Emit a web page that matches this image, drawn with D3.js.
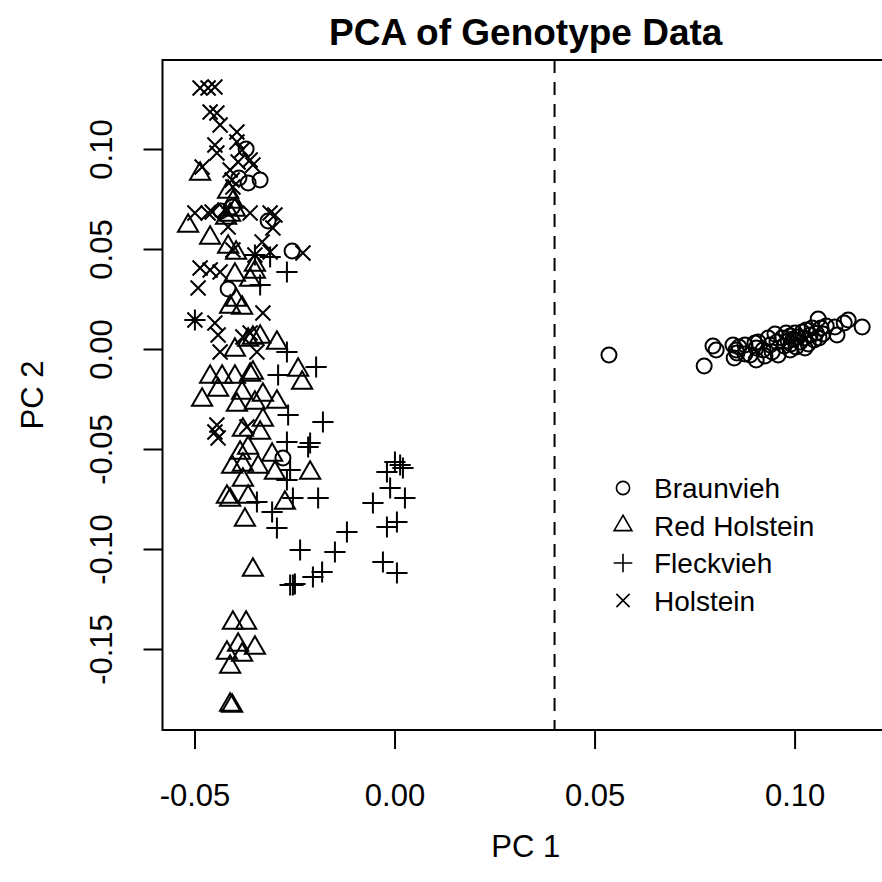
<!DOCTYPE html>
<html lang="en">
<head>
<meta charset="utf-8">
<title>PCA of Genotype Data</title>
<script src="https://d3js.org/d3.v7.min.js"></script>
<style>
  body { margin: 0; background: #fff; }
  text { font-family: "Liberation Sans", Arial, sans-serif; fill: #000; }
</style>
</head>
<body>
<script>
  // ---- data (PC1, PC2) ----
  const braunvieh = [
    [-0.0371, 0.1000], [-0.0389, 0.0855], [-0.0336, 0.0845], [-0.0366, 0.0830],
    [-0.0434, 0.0690], [-0.0405, 0.0710], [-0.0316, 0.0640], [-0.0256, 0.0490],
    [-0.0416, 0.0300], [-0.0279, -0.0545],
    [0.0536, -0.0030], [0.0774, -0.0085], [0.0796, 0.0015], [0.0804, -0.0005],
    [0.0846, 0.0020], [0.0854, -0.0005], [0.0849, -0.0045], [0.0861, 0.0010],
    [0.0856, -0.0020], [0.0876, 0.0020], [0.0889, -0.0030], [0.0901, 0.0030],
    [0.0904, 0.0005], [0.0904, -0.0055], [0.0909, 0.0035], [0.0921, -0.0005],
    [0.0934, 0.0055], [0.0939, 0.0020], [0.0944, -0.0015], [0.0951, 0.0075],
    [0.0956, 0.0035], [0.0959, -0.0030], [0.0969, 0.0055], [0.0974, 0.0015],
    [0.0979, 0.0080], [0.0984, 0.0040], [0.0989, 0.0065], [0.0991, 0.0025],
    [0.0996, 0.0050], [0.1001, 0.0080], [0.1004, 0.0010], [0.1009, 0.0060],
    [0.1014, 0.0035], [0.1019, 0.0085], [0.1024, 0.0055], [0.1029, 0.0095],
    [0.1034, 0.0025], [0.1039, 0.0070], [0.1044, 0.0105], [0.1049, 0.0045],
    [0.1054, 0.0080], [0.1059, 0.0150], [0.1061, 0.0055], [0.1066, 0.0105],
    [0.1071, 0.0075], [0.1079, 0.0115], [0.1101, 0.0110], [0.1106, 0.0070],
    [0.1124, 0.0130], [0.1134, 0.0145], [0.1169, 0.0110], [0.0876, -0.0025],
    [0.0926, -0.0035], [0.0989, -0.0005], [0.1026, 0.0005]
  ];

  const redHolstein = [
    [-0.0486, 0.0875], [-0.0516, 0.0615], [-0.0461, 0.0555], [-0.0416, 0.0785],
    [-0.0404, 0.0735], [-0.0399, 0.0695], [-0.0411, 0.0670], [-0.0421, 0.0655],
    [-0.0416, 0.0510], [-0.0396, 0.0480], [-0.0399, 0.0370], [-0.0361, 0.0345],
    [-0.0349, 0.0385], [-0.0349, 0.0420], [-0.0411, 0.0210], [-0.0381, 0.0205],
    [-0.0396, 0.0245], [-0.0336, 0.0060], [-0.0294, 0.0030], [-0.0366, 0.0045],
    [-0.0399, -0.0005], [-0.0354, 0.0055], [-0.0241, -0.0105], [-0.0231, -0.0170],
    [-0.0354, -0.0120], [-0.0431, -0.0140], [-0.0461, -0.0140], [-0.0399, -0.0140],
    [-0.0361, -0.0130], [-0.0481, -0.0255], [-0.0441, -0.0205], [-0.0381, -0.0220],
    [-0.0349, -0.0270], [-0.0394, -0.0280], [-0.0294, -0.0265], [-0.0329, -0.0230],
    [-0.0329, -0.0355], [-0.0379, -0.0405], [-0.0336, -0.0420], [-0.0386, -0.0520],
    [-0.0366, -0.0495], [-0.0306, -0.0530], [-0.0406, -0.0590], [-0.0379, -0.0580],
    [-0.0341, -0.0590], [-0.0299, -0.0620], [-0.0379, -0.0655], [-0.0211, -0.0620],
    [-0.0419, -0.0740], [-0.0366, -0.0740], [-0.0411, -0.0755], [-0.0274, -0.0770],
    [-0.0374, -0.0855], [-0.0354, -0.1105], [-0.0404, -0.1370], [-0.0371, -0.1370],
    [-0.0391, -0.1480], [-0.0349, -0.1495], [-0.0419, -0.1520], [-0.0381, -0.1530],
    [-0.0411, -0.1590], [-0.0411, -0.1780], [-0.0406, -0.1785]
  ];

  const fleckvieh = [
    [-0.0499, 0.0145], [-0.0349, 0.0470], [-0.0311, 0.0460], [-0.0269, 0.0385],
    [-0.0336, 0.0320], [-0.0269, -0.0015], [-0.0196, -0.0090], [-0.0291, -0.0130],
    [-0.0266, -0.0330], [-0.0179, -0.0365], [-0.0269, -0.0465], [-0.0211, -0.0470],
    [-0.0216, -0.0490], [-0.0261, -0.0605], [-0.0269, -0.0655], [-0.0191, -0.0745],
    [-0.0254, -0.0745], [-0.0344, -0.0765], [-0.0306, -0.0815], [-0.0294, -0.0895],
    [-0.0236, -0.1005], [-0.0119, -0.0915], [-0.0149, -0.1015], [-0.0181, -0.1115],
    [-0.0204, -0.1140], [-0.0249, -0.1175], [-0.0261, -0.1180], [-0.0254, -0.1180],
    [0.0001, -0.0565], [0.0014, -0.0580], [-0.0019, -0.0615], [0.0021, -0.0595],
    [-0.0011, -0.0695], [0.0026, -0.0745], [-0.0054, -0.0770], [-0.0019, -0.0890],
    [0.0006, -0.0865], [-0.0029, -0.1065], [0.0006, -0.1120]
  ];

  const holstein = [
    [-0.0486, 0.1305], [-0.0466, 0.1305], [-0.0449, 0.1310], [-0.0461, 0.1185],
    [-0.0444, 0.1180], [-0.0436, 0.1120], [-0.0394, 0.1085], [-0.0449, 0.1020],
    [-0.0444, 0.0980], [-0.0394, 0.1035], [-0.0381, 0.0995], [-0.0361, 0.0945],
    [-0.0481, 0.0910], [-0.0411, 0.0895], [-0.0391, 0.0935], [-0.0354, 0.0920],
    [-0.0404, 0.0810], [-0.0406, 0.0845], [-0.0499, 0.0680], [-0.0466, 0.0680],
    [-0.0424, 0.0695], [-0.0361, 0.0680], [-0.0311, 0.0680], [-0.0299, 0.0670],
    [-0.0456, 0.0685], [-0.0416, 0.0610], [-0.0304, 0.0605], [-0.0404, 0.0495],
    [-0.0331, 0.0535], [-0.0311, 0.0485], [-0.0229, 0.0480], [-0.0486, 0.0405],
    [-0.0461, 0.0395], [-0.0436, 0.0385], [-0.0491, 0.0305], [-0.0329, 0.0180],
    [-0.0449, 0.0130], [-0.0499, 0.0145], [-0.0349, 0.0470], [-0.0441, 0.0070],
    [-0.0379, 0.0060], [-0.0361, 0.0080], [-0.0436, -0.0015], [-0.0344, -0.0015],
    [-0.0444, -0.0380], [-0.0449, -0.0415], [-0.0441, -0.0445], [-0.0369, -0.0390]
  ];

  const breeds = ["Braunvieh", "Red Holstein", "Fleckvieh", "Holstein"];
  const breedShapes = ["circle", "triangle", "plus", "cross"];
  const seriesData = [braunvieh, redHolstein, fleckvieh, holstein];

  const xTicks = [-0.05, 0.00, 0.05, 0.10];
  const yTicks = [-0.15, -0.10, -0.05, 0.00, 0.05, 0.10];
  const cutLine = 0.04;

  // ---- layout ----
  const W = 882, H = 882;
  const box = { left: 162.5, right: 889, top: 60, bottom: 730 };
  const symR = 7.5;      // R's 0.375 * char size
  const lw = 2;

  const svg = d3.select("body").append("svg")
    .attr("width", W).attr("height", H);

  const x = d3.scaleLinear().domain([-0.058, 0.1236]).range([box.left, box.right]);
  const y = d3.scaleLinear().domain([-0.1905, 0.1445]).range([box.bottom, box.top]);

  // path for an R-style pch symbol centred at 0,0
  function symbolPath(shape, r) {
    const p = d3.path();
    if (shape === "circle") {
      p.moveTo(r, 0);
      p.arc(0, 0, r, 0, 2 * Math.PI);
    } else if (shape === "triangle") {
      const tr = 1.5551 * r, txc = 1.3468 * r, tyc = 0.7776 * r;
      p.moveTo(0, -tr);
      p.lineTo(txc, tyc);
      p.lineTo(-txc, tyc);
      p.closePath();
    } else if (shape === "plus") {
      const a = Math.SQRT2 * r;
      p.moveTo(-a, 0); p.lineTo(a, 0);
      p.moveTo(0, -a); p.lineTo(0, a);
    } else {
      p.moveTo(-r, -r); p.lineTo(r, r);
      p.moveTo(-r, r); p.lineTo(r, -r);
    }
    return p.toString();
  }

  // ---- points ----
  const plot = svg.append("g");
  seriesData.forEach((pts, i) => {
    plot.append("g")
      .selectAll("path")
      .data(pts)
      .join("path")
      .attr("transform", d => `translate(${x(d[0])},${y(d[1])})`)
      .attr("d", symbolPath(breedShapes[i], symR))
      .attr("fill", "none")
      .attr("stroke", "#000")
      .attr("stroke-width", lw)
      .attr("stroke-linejoin", "miter");
  });

  // dashed divider
  svg.append("line")
    .attr("x1", x(cutLine)).attr("x2", x(cutLine))
    .attr("y1", box.top).attr("y2", box.bottom)
    .attr("stroke", "#000").attr("stroke-width", lw)
    .attr("stroke-dasharray", "13,9");

  // frame
  svg.append("rect")
    .attr("x", box.left).attr("y", box.top)
    .attr("width", box.right - box.left).attr("height", box.bottom - box.top)
    .attr("fill", "none").attr("stroke", "#000").attr("stroke-width", lw);

  // ---- axes ----
  const xAxis = svg.append("g")
    .attr("transform", `translate(0,${box.bottom})`)
    .call(d3.axisBottom(x).tickValues(xTicks).tickSize(19).tickSizeOuter(0)
      .tickFormat(d3.format(".2f")));
  xAxis.select(".domain").remove();
  xAxis.selectAll(".tick line").attr("stroke-width", lw);
  xAxis.selectAll(".tick text")
    .attr("y", 76).attr("dy", null)
    .attr("font-size", 31)
    .attr("font-family", "Liberation Sans, Arial, sans-serif")
    .text(d => d3.format(".2f")(d).replace("−", "-"));

  const yAxis = svg.append("g")
    .attr("transform", `translate(${box.left},0)`)
    .call(d3.axisLeft(y).tickValues(yTicks).tickSize(19).tickSizeOuter(0));
  yAxis.select(".domain").remove();
  yAxis.selectAll(".tick line").attr("stroke-width", lw);
  yAxis.selectAll(".tick text").remove();
  yAxis.selectAll(".tick").append("text")
    .attr("transform", "translate(-51,0) rotate(-90)")
    .attr("text-anchor", "middle")
    .attr("font-size", 31)
    .attr("fill", "#000")
    .text(d => d3.format(".2f")(d).replace("−", "-"));

  // ---- titles ----
  svg.append("text")
    .attr("x", (box.left + box.right) / 2).attr("y", 45)
    .attr("text-anchor", "middle")
    .attr("font-size", 37).attr("font-weight", "bold")
    .text("PCA of Genotype Data");

  svg.append("text")
    .attr("x", (box.left + box.right) / 2).attr("y", 857)
    .attr("text-anchor", "middle")
    .attr("font-size", 31)
    .text("PC 1");

  svg.append("text")
    .attr("transform", `translate(43,${(box.top + box.bottom) / 2}) rotate(-90)`)
    .attr("text-anchor", "middle")
    .attr("font-size", 31)
    .text("PC 2");

  // ---- legend (no box) ----
  const legend = svg.append("g").attr("transform", "translate(623,488)");
  const rows = legend.selectAll("g")
    .data(breeds)
    .join("g")
    .attr("transform", (d, i) => `translate(0,${i * 37.5})`);
  rows.append("path")
    .attr("d", (d, i) => symbolPath(breedShapes[i], 6.6))
    .attr("fill", "none").attr("stroke", "#000").attr("stroke-width", 1.6);
  rows.append("text")
    .attr("x", 31).attr("dy", "0.36em")
    .attr("font-size", 28)
    .text(d => d);
</script>
</body>
</html>
